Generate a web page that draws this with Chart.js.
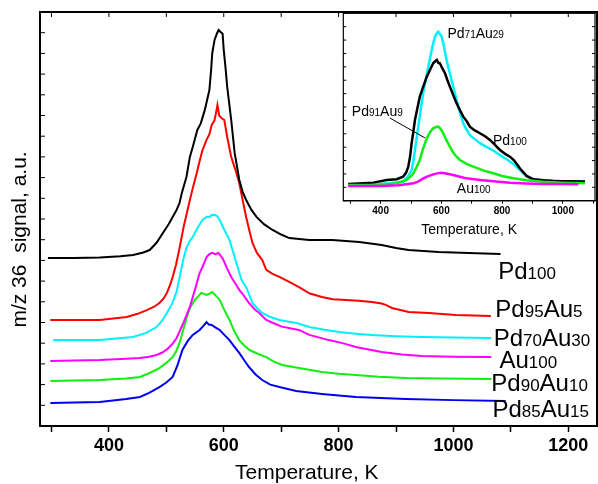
<!DOCTYPE html>
<html>
<head>
<meta charset="utf-8">
<script src="https://cdn.jsdelivr.net/npm/chart.js@4.4.1/dist/chart.umd.min.js"></script>
<style>
  html, body { margin: 0; padding: 0; background: #fff; }
  #wrap { position: relative; width: 598px; height: 484px; }
  #main { position: absolute; left: 0; top: 0; }
  #inset { position: absolute; left: 300px; top: 0; }
</style>
</head>
<body>
<div id="wrap">
  <canvas id="main" width="598" height="484"></canvas>
  <canvas id="inset" width="298" height="245"></canvas>
</div>
<script>
'use strict';

const FONT = "'Liberation Sans', Arial, sans-serif";

// main panel, [temperature K, signal a.u.] (curves are stacked with offsets)
const mainPd100 = [[294,8.12],[340,8.12],[384,8.14],[420,8.20],[442,8.26],[460,8.38],[471,8.50],[483,8.85],[494,9.32],[504,9.75],[511,10.10],[518,10.45],[523,10.77],[527,11.26],[535,12.03],[541,13.0],[546,13.48],[554,14.30],[560,14.62],[567,15.27],[575,16.23],[578,17.20],[580,18.02],[584,18.65],[588,18.95],[591,19.13],[595,19.02],[598,18.95],[600,18.16],[603,17.34],[606,16.38],[613,14.78],[619,13.19],[622,12.71],[627,11.9],[633,11.3],[639,10.92],[648,10.45],[657,10.10],[670,9.75],[685,9.47],[700,9.25],[714,9.08],[749,8.99],[789,8.99],[836,8.89],[875,8.74],[900,8.6],[922,8.50],[974,8.41],[1026,8.36],[1082,8.31]];
const mainPd95Au5 = [[298,5.12],[340,5.12],[384,5.12],[431,5.27],[450,5.42],[466,5.60],[478,5.75],[488,5.94],[495,6.15],[501,6.43],[507,6.85],[511,7.20],[517,7.8],[523,8.6],[530,9.6],[541,10.92],[547,11.6],[553,12.22],[558,12.8],[563,13.33],[570,13.82],[575,14.1],[579,14.54],[584,14.78],[587,15.2],[589,15.51],[592,15.0],[596,14.88],[601,14.78],[606,13.96],[613,13.00],[620,12.4],[627,11.74],[633,10.9],[639,10.10],[645,9.4],[650,8.84],[658,8.35],[667,8.02],[674,7.54],[685,7.35],[697,7.20],[714,6.96],[731,6.71],[750,6.4],[771,6.23],[790,6.12],[813,6.09],[835,6.05],[858,5.99],[875,5.92],[882,5.85],[893,5.70],[922,5.51],[957,5.46],[1004,5.36],[1065,5.31]];
const mainPd70Au30 = [[303,4.15],[340,4.15],[384,4.15],[442,4.30],[465,4.5],[483,4.78],[493,5.1],[501,5.46],[510,5.9],[518,6.5],[524,7.3],[530,8.1],[535,8.60],[541,8.95],[546,9.13],[555,9.6],[563,9.95],[570,10.1],[575,10.10],[580,10.2],[584,10.19],[588,10.15],[593,9.95],[601,9.47],[610,8.99],[619,8.16],[625,7.6],[631,7.05],[639,6.71],[645,6.3],[650,5.94],[658,5.7],[667,5.46],[680,5.28],[697,5.12],[726,4.98],[749,4.78],[775,4.65],[801,4.54],[830,4.46],[858,4.40],[900,4.34],[945,4.30],[1000,4.27],[1066,4.25]];
const mainAu100 = [[298,3.14],[340,3.17],[384,3.19],[430,3.25],[454,3.29],[470,3.35],[483,3.43],[493,3.55],[501,3.7],[510,3.95],[518,4.25],[530,5.0],[541,5.75],[550,6.6],[558,7.39],[563,7.68],[570,8.16],[575,8.3],[580,8.36],[585,8.3],[591,8.36],[595,8.2],[598,8.1],[606,7.6],[613,7.2],[620,6.9],[627,6.57],[635,6.3],[644,5.94],[655,5.6],[662,5.46],[674,5.12],[688,4.95],[701,4.8],[731,4.64],[749,4.40],[783,4.15],[810,3.98],[830,3.82],[875,3.57],[910,3.45],[945,3.38],[1000,3.35],[1066,3.33]];
const mainPd90Au10 = [[298,2.17],[340,2.2],[384,2.22],[430,2.3],[454,2.37],[470,2.55],[488,2.80],[500,3.05],[511,3.33],[517,3.6],[523,4.01],[530,4.7],[535,5.2],[541,5.70],[550,6.1],[561,6.43],[570,6.33],[575,6.4],[580,6.47],[586,6.3],[593,6.09],[601,5.6],[610,5.12],[618,4.6],[627,4.15],[635,3.9],[645,3.67],[660,3.48],[674,3.33],[688,3.1],[702,2.95],[731,2.80],[771,2.61],[800,2.52],[830,2.46],[870,2.38],[917,2.32],[980,2.29],[1066,2.27]];
const mainPd85Au15 = [[298,1.11],[340,1.13],[384,1.16],[430,1.3],[454,1.40],[470,1.6],[488,1.88],[500,2.1],[511,2.37],[519,2.9],[528,3.67],[537,4.1],[546,4.40],[558,4.64],[565,4.85],[570,5.02],[574,4.9],[579,4.88],[586,4.75],[593,4.64],[601,4.4],[610,4.15],[618,3.85],[627,3.53],[635,3.2],[644,2.85],[655,2.5],[667,2.22],[681,2.0],[697,1.88],[726,1.69],[771,1.55],[830,1.40],[917,1.30],[1000,1.25],[1091,1.21]];

// inset panel
const insetPd100 = [[293,1.25],[376,1.35],[420,1.55],[453,1.60],[474,1.79],[484,2.1],[491,2.54],[497,3.3],[502,4.29],[508,5.2],[513,6.03],[521,6.9],[529,7.77],[540,8.5],[552,9.27],[563,9.8],[573,10.27],[579,10.4],[585,10.52],[590,10.3],[595,10.27],[603,9.9],[612,9.52],[620,9.0],[628,8.52],[639,7.9],[650,7.28],[661,6.78],[672,6.28],[683,5.95],[694,5.53],[710,5.25],[727,5.04],[745,4.8],[760,4.54],[771,4.3],[793,3.79],[810,3.5],[826,3.29],[840,3.0],[859,2.4],[881,1.85],[903,1.6],[936,1.52],[969,1.48],[1020,1.45],[1073,1.44]];
const insetPd71Au29 = [[293,1.17],[380,1.22],[431,1.30],[474,1.42],[490,1.8],[502,2.29],[508,3.0],[513,3.79],[518,4.6],[524,5.53],[532,6.8],[540,8.03],[548,9.0],[557,10.01],[565,10.9],[573,11.76],[580,12.3],[586,12.55],[590,12.63],[595,12.45],[601,12.26],[608,11.6],[617,10.52],[628,9.5],[639,8.52],[650,7.53],[661,6.6],[672,5.78],[683,5.3],[694,4.9],[710,4.6],[727,4.3],[750,4.0],[771,3.75],[793,3.4],[815,3.1],[837,2.75],[859,2.29],[881,1.79],[903,1.6],[925,1.55],[991,1.47],[1073,1.42]];
const insetPd91Au9 = [[293,1.17],[400,1.2],[453,1.30],[486,1.55],[498,1.8],[508,2.05],[518,2.5],[529,3.04],[540,3.9],[552,4.66],[562,5.1],[573,5.41],[582,5.5],[590,5.53],[598,5.35],[606,5.04],[617,4.5],[628,4.04],[639,3.6],[650,3.29],[661,3.04],[683,2.75],[705,2.54],[740,2.25],[771,2.05],[800,1.85],[837,1.67],[880,1.52],[936,1.42],[1000,1.35],[1073,1.30]];
const insetAu100 = [[293,1.10],[400,1.10],[460,1.15],[508,1.30],[525,1.45],[540,1.67],[555,1.82],[573,1.97],[590,2.06],[601,2.09],[620,2.02],[639,1.92],[661,1.79],[683,1.67],[727,1.55],[780,1.43],[826,1.35],[880,1.29],[936,1.25],[1000,1.24],[1051,1.23]];

// curve labels: text parts alternate normal / small digits, anchored at [K, a.u.]
const mainLabels = [
  { parts: ['Pd', '100'], at: [1078, 7.10] },
  { parts: ['Pd', '95', 'Au', '5'], at: [1073, 5.27] },
  { parts: ['Pd', '70', 'Au', '30'], at: [1070, 3.86] },
  { parts: ['Au', '100'], at: [1080, 2.82] },
  { parts: ['Pd', '90', 'Au', '10'], at: [1066, 1.69] },
  { parts: ['Pd', '85', 'Au', '15'], at: [1068, 0.42] },
];
const insetLabels = [
  { parts: ['Pd', '71', 'Au', '29'], at: [620, 12.14] },
  { parts: ['Pd', '91', 'Au', '9'], at: [305, 6.35] },
  { parts: ['Pd', '100'], at: [770, 4.16] },
  { parts: ['Au', '100'], at: [651, 0.55] },
];
const insetPointer = [[430, 6.18], [546, 4.69]];

const toPoints = (pairs) => pairs.map(([x, y]) => ({ x, y }));

function makeDataset(pairs, color, width) {
  return {
    data: toPoints(pairs),
    borderColor: color,
    borderWidth: width,
    pointRadius: 0,
    tension: 0,
    fill: false,
  };
}

const framePlugin = {
  id: 'frame',
  afterDraw(chart, args, opts) {
    const { ctx, chartArea: area, scales } = chart;
    const xScale = scales.x;
    const yScale = scales.y;
    ctx.save();
    ctx.strokeStyle = '#000';
    ctx.lineWidth = opts.lineWidth;
    ctx.strokeRect(area.left, area.top, area.right - area.left, area.bottom - area.top);

    ctx.beginPath();
    ctx.lineWidth = 1;
    yScale.ticks.forEach((tick) => {
      const py = yScale.getPixelForValue(tick.value);
      ctx.moveTo(area.left, py);
      ctx.lineTo(area.left + opts.tickLength, py);
      if (opts.rightTicks) {
        ctx.moveTo(area.right, py);
        ctx.lineTo(area.right - opts.tickLength, py);
      }
    });
    if (opts.topTicks) {
      xScale.ticks.forEach((tick) => {
        const px = xScale.getPixelForValue(tick.value);
        ctx.moveTo(px, area.top);
        ctx.lineTo(px, area.top + opts.tickLength);
      });
    }
    ctx.stroke();

    if (opts.pointer) {
      ctx.beginPath();
      ctx.lineWidth = 1;
      ctx.moveTo(xScale.getPixelForValue(opts.pointer[0][0]), yScale.getPixelForValue(opts.pointer[0][1]));
      ctx.lineTo(xScale.getPixelForValue(opts.pointer[1][0]), yScale.getPixelForValue(opts.pointer[1][1]));
      ctx.stroke();
    }

    ctx.fillStyle = '#000';
    ctx.textAlign = 'left';
    ctx.textBaseline = 'alphabetic';
    opts.labels.forEach((label) => {
      let px = xScale.getPixelForValue(label.at[0]);
      const py = yScale.getPixelForValue(label.at[1]);
      label.parts.forEach((part, i) => {
        ctx.font = (i % 2 ? opts.smallSize : opts.bigSize) + 'px ' + FONT;
        ctx.fillText(part, px, py);
        px += ctx.measureText(part).width;
      });
    });
    ctx.restore();
  }
};

new Chart(document.getElementById('main'), {
  type: 'line',
  data: {
    datasets: [
      makeDataset(mainPd100, '#000000', 2),
      makeDataset(mainPd95Au5, '#ff0000', 2),
      makeDataset(mainPd70Au30, '#00f0ff', 2),
      makeDataset(mainAu100, '#ff00ff', 2),
      makeDataset(mainPd90Au10, '#11ee11', 2),
      makeDataset(mainPd85Au15, '#0000ee', 2),
    ]
  },
  options: {
    responsive: false,
    animation: false,
    layout: { padding: { top: 12, right: 1, left: 0, bottom: 0 } },
    plugins: {
      legend: { display: false },
      tooltip: { enabled: false },
      frame: {
        lineWidth: 2, tickLength: 5, topTicks: true, rightTicks: false,
        labels: mainLabels, bigSize: 24, smallSize: 17,
      },
    },
    scales: {
      x: {
        type: 'linear',
        min: 280,
        max: 1250,
        afterFit: (scale) => { scale.height = 58; },
        grid: { drawOnChartArea: false, tickLength: 6, tickWidth: 1.5, tickColor: '#000' },
        border: { display: true, color: '#000', width: 2 },
        ticks: {
          stepSize: 100,
          includeBounds: false,
          autoSkip: false,
          maxRotation: 0,
          padding: 3,
          color: '#000',
          font: { family: FONT, size: 18, weight: 'bold' },
          callback: (value) => (value % 200 === 0 ? value : ''),
        },
        title: {
          display: true,
          text: 'Temperature, K    ',
          color: '#000',
          font: { family: FONT, size: 21, lineHeight: 1 },
          padding: { top: 0, bottom: 0 },
        },
      },
      y: {
        min: 0,
        max: 20,
        afterFit: (scale) => { scale.width = 40; },
        grid: { display: false },
        border: { display: false },
        ticks: { display: false, stepSize: 1, maxTicksLimit: 100 },
        title: {
          display: true,
          text: 'm/z 36  signal, a.u.       ',
          color: '#000',
          font: { family: FONT, size: 21 },
          padding: { top: 8, bottom: 0 },
        },
      },
    },
  },
  plugins: [framePlugin],
});

new Chart(document.getElementById('inset'), {
  type: 'line',
  data: {
    datasets: [
      makeDataset(insetAu100, '#ff00ff', 2.5),
      makeDataset(insetPd91Au9, '#11ee11', 2.5),
      makeDataset(insetPd100, '#000000', 2.5),
      makeDataset(insetPd71Au29, '#00f0ff', 2.5),
    ]
  },
  options: {
    responsive: false,
    animation: false,
    layout: { padding: { top: 13.3, right: 3, left: 0, bottom: 0 } },
    plugins: {
      legend: { display: false },
      tooltip: { enabled: false },
      frame: {
        lineWidth: 1.2, tickLength: 3, topTicks: false, rightTicks: true,
        labels: insetLabels, bigSize: 14, smallSize: 10, pointer: insetPointer,
      },
    },
    scales: {
      x: {
        type: 'linear',
        min: 277,
        max: 1106,
        afterFit: (scale) => { scale.height = 44.3; },
        grid: { drawOnChartArea: false, tickLength: 3, tickColor: '#000' },
        border: { display: true, color: '#000', width: 1.2 },
        ticks: {
          stepSize: 100,
          includeBounds: false,
          autoSkip: false,
          maxRotation: 0,
          padding: 2,
          color: '#000',
          font: { family: FONT, size: 10, weight: 'bold' },
          callback: (value) => (value % 200 === 0 ? value : ''),
        },
        title: {
          display: true,
          text: 'Temperature, K',
          color: '#000',
          font: { family: FONT, size: 14, lineHeight: 1 },
          padding: { top: 0, bottom: 8 },
        },
      },
      y: {
        min: 0,
        max: 14,
        afterFit: (scale) => { scale.width = 43.3; },
        grid: { display: false },
        border: { display: false },
        ticks: { display: false, stepSize: 1, maxTicksLimit: 100 },
      },
    },
  },
  plugins: [framePlugin],
});
</script>
</body>
</html>
